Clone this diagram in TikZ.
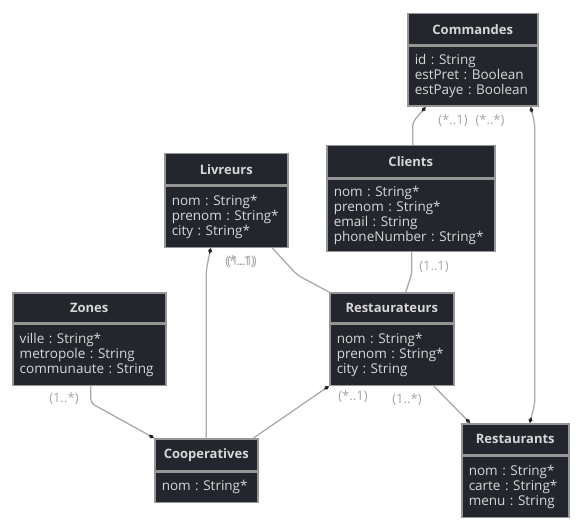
\documentclass[tikz,border=0pt]{standalone}
\usepackage{fontspec}
\setmainfont{Open Sans}
\frenchspacing
\usetikzlibrary{arrows.meta,positioning,calc}
\definecolor{boxdark}{RGB}{35,38,45}
\definecolor{boxedge}{RGB}{150,150,150}
\definecolor{boxtext}{RGB}{215,215,215}
\definecolor{linkgray}{RGB}{170,170,170}
\definecolor{multgray}{RGB}{165,165,165}
\tikzset{
  classhead/.style={draw=boxedge, fill=boxdark, text=boxtext, line width=1.5pt,
    anchor=north west, minimum height=31pt, inner sep=0pt,
    font=\fontsize{13}{15}\selectfont\bfseries},
  classbody/.style={draw=boxedge, fill=boxdark, text=boxtext, line width=1.5pt,
    anchor=north west, align=left, inner xsep=7pt, inner ysep=0pt,
    font=\fontsize{13.5}{15}\selectfont},
  link/.style={draw=linkgray, line width=1.3pt, rounded corners=4pt},
  comp/.style={-{Diamond[length=6pt,width=4pt,fill=boxdark,color=boxdark]}},
  mult/.style={text=multgray, inner sep=0pt, font=\fontsize{13}{14}\selectfont}
}
\begin{document}
\begin{tikzpicture}[x=1pt, y=-1pt]
  \useasboundingbox (0,0) rectangle (580,529);
  % classes
  \node[classhead, minimum width=130pt] (cmd) at (407,13) {Commandes};
  \node[classbody, text width=116pt, minimum height=60pt] (cmd-a) at (cmd.south west)
    {id : String\\estPret : Boolean\\estPaye : Boolean};
  \node[classhead, minimum width=168pt, minimum height=32pt] (cli) at (326,145) {Clients};
  \node[classbody, text width=154pt, minimum height=72pt] (cli-a) at (cli.south west)
    {nom : String*\\prenom : String*\\email : String\\phoneNumber : String*};
  \node[classhead, minimum width=123pt] (liv) at (164,153) {Livreurs};
  \node[classbody, text width=109pt, minimum height=61pt] (liv-a) at (liv.south west)
    {nom : String*\\prenom : String*\\city : String*};
  \node[classhead, minimum width=153pt, minimum height=30pt] (zon) at (12,292) {Zones};
  \node[classbody, text width=139pt, minimum height=61pt] (zon-a) at (zon.south west)
    {ville : String*\\metropole : String\\communaute : String};
  \node[classhead, minimum width=124pt, minimum height=30pt] (rst) at (329,292) {Restaurateurs};
  \node[classbody, text width=110pt, minimum height=61pt] (rst-a) at (rst.south west)
    {nom : String*\\prenom : String*\\city : String};
  \node[classhead, minimum width=103pt, minimum height=32pt] (coop) at (154,438) {Cooperatives};
  \node[classbody, text width=89pt, minimum height=30pt] (coop-a) at (coop.south west)
    {nom : String*};
  \node[classhead, minimum width=107pt] (res) at (461,423) {Restaurants};
  \node[classbody, text width=93pt, minimum height=61pt] (res-a) at (res.south west)
    {nom : String*\\carte : String*\\menu : String};
  % links
  \draw[link, comp] ([xshift=2pt]cli.north) -- ++(0,-23) -- ([xshift=-47pt]cmd-a.south);
  \draw[link, {Diamond[length=6pt,width=4pt,fill=boxdark,color=boxdark]}-{Diamond[length=6pt,width=4pt,fill=boxdark,color=boxdark]}]
    ([xshift=58pt]cmd-a.south) -- ++(4,17) -- ++(0,280) -- ([xshift=14.5pt]res.north);
  \draw[link, comp] (coop.north) -- ++(0,-168) -- ([xshift=-15.5pt]liv-a.south);
  \draw[link] ([xshift=46pt]liv-a.south) -- ++(25,27) -- (rst.north west);
  \draw[link] ([xshift=1pt]cli-a.south) -- ++(0,22) -- ([xshift=14pt]rst.north);
  \draw[link, comp] ([xshift=1.5pt]zon-a.south) -- ++(0,17) -- (coop.north west);
  \draw[link, comp] ([xshift=-5pt]coop.north east) -- (rst-a.south west);
  \draw[link, comp] ([xshift=42pt]rst-a.south) -- ([xshift=9pt]res.north west);
  % multiplicities
  \node[mult] (m-cc) at (453,121) {(*..1)};
  \node[mult] (m-cr) at (490,121) {(*..*)};
  \node[mult] (m-lc) at (240,262) {(*..1)};
  \node[mult] (m-lr) at (242,262) {(1..1)};
  \node[mult] (m-cl) at (434,267) {(1..1)};
  \node[mult] (m-zc) at (64,399) {(1..*)};
  \node[mult] (m-cp) at (353,397) {(*..1)};
  \node[mult] (m-rr) at (407,400) {(1..*)};
\end{tikzpicture}
\end{document}
